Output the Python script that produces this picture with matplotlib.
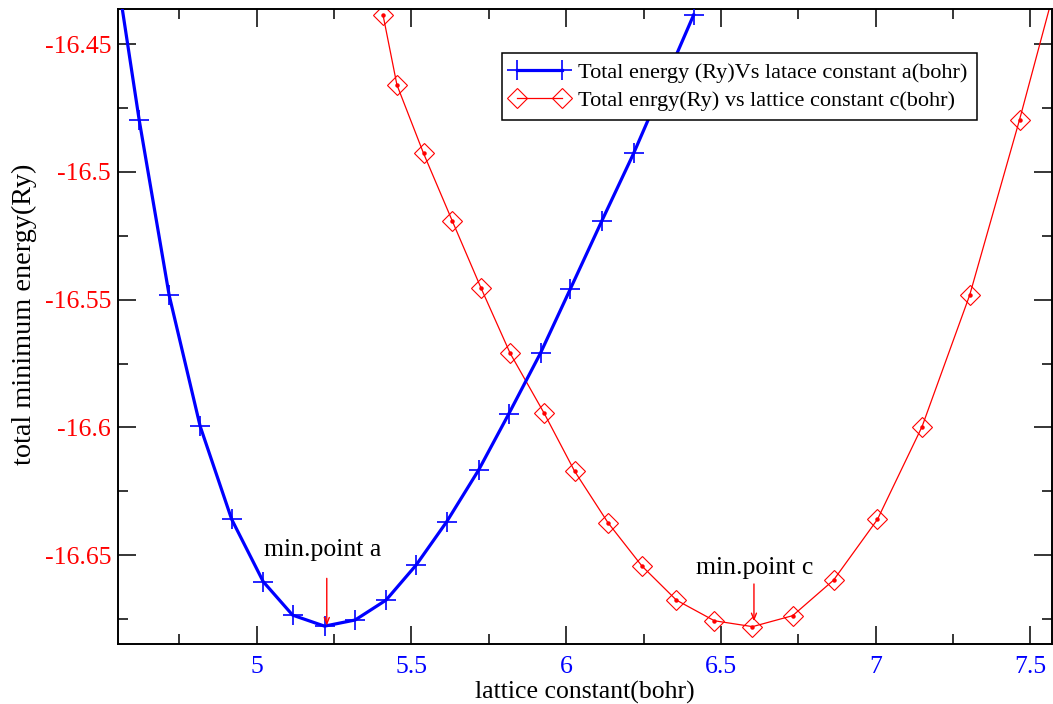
import matplotlib
matplotlib.use("Agg")
import matplotlib.pyplot as plt
from matplotlib.ticker import FixedLocator, MultipleLocator

plt.rcParams['font.family'] = ['Liberation Serif', 'DejaVu Serif']

# Series a: total energy vs lattice constant a (bohr)
a_x = [4.52, 4.620, 4.717, 4.817, 4.919, 5.021, 5.116, 5.219, 5.318, 5.418,
       5.515, 5.614, 5.717, 5.814, 5.917, 6.013, 6.115, 6.218, 6.412]
a_y = [-16.400, -16.4796, -16.5483, -16.5995, -16.6360, -16.6604, -16.6735,
       -16.6778, -16.6754, -16.6676, -16.6539, -16.6369, -16.6167, -16.5948,
       -16.5709, -16.5459, -16.5192, -16.4927, -16.4385]

# Series c: total energy vs lattice constant c (bohr)
c_x = [5.408, 5.453, 5.539, 5.632, 5.725, 5.819, 5.929, 6.027, 6.135, 6.245,
       6.356, 6.479, 6.602, 6.732, 6.864, 7.006, 7.150, 7.304, 7.465, 7.63]
c_y = [-16.4385, -16.4659, -16.4927, -16.5192, -16.5455, -16.5710, -16.5945,
       -16.6171, -16.6373, -16.6543, -16.6676, -16.6757, -16.6780, -16.6737,
       -16.6598, -16.6360, -16.5997, -16.5482, -16.4796, -16.405]

label_a = "Total energy (Ry)Vs latace constant a(bohr)"
label_c = "Total enrgy(Ry) vs lattice constant c(bohr)"

x_ticks = [5, 5.5, 6, 6.5, 7, 7.5]
x_ticklabels = ["5", "5.5", "6", "6.5", "7", "7.5"]
y_ticks = [-16.45, -16.5, -16.55, -16.6, -16.65]
y_ticklabels = ["-16.45", "-16.5", "-16.55", "-16.6", "-16.65"]

fig = plt.figure(figsize=(10.53, 7.04), dpi=100)
ax = fig.add_axes([118/1053, 1 - 643.5/704, (1052 - 118)/1053, (643.5 - 9)/704])

ax.plot(a_x, a_y, color='#0000ff', lw=2.3, marker='+', ms=14.5, mew=1.2,
        label=label_a, zorder=3)
ax.plot(c_x, c_y, color='#ff0000', lw=0.9, marker='D', ms=9.8, mew=0.8,
        mfc='none', label=label_c, zorder=2)
ax.plot(c_x, c_y, color='#ff0000', lw=0, marker='o', ms=2.2, zorder=2)

ax.set_xlim(4.5516, 7.570)
ax.set_ylim(-16.6846, -16.4362)

ax.xaxis.set_major_locator(FixedLocator(x_ticks))
ax.set_xticklabels(x_ticklabels)
ax.xaxis.set_minor_locator(MultipleLocator(0.25))
ax.yaxis.set_major_locator(FixedLocator(y_ticks))
ax.set_yticklabels(y_ticklabels)
ax.yaxis.set_minor_locator(MultipleLocator(0.025))

ax.tick_params(which='both', direction='in', top=True, right=True, width=1.1)
ax.tick_params(which='major', length=13)
ax.tick_params(which='minor', length=7)
ax.tick_params(axis='x', labelcolor='#0000ff', labelsize=18.5, pad=9)
ax.tick_params(axis='y', labelcolor='#ff0000', labelsize=18.5, pad=5)
for s in ax.spines.values():
    s.set_linewidth(1.4)

ax.set_xlabel("lattice constant(bohr)", fontsize=18.5, labelpad=2)
ax.set_ylabel("total minimum energy(Ry)", fontsize=20.3)
ax.yaxis.set_label_coords((37 - 118) / 934, (643.5 - 314) / 634.5)

# annotations
ax.text(5.2118, -16.648, "min.point a", fontsize=18.5, ha='center', va='center')
ax.annotate("", xy=(5.2263, -16.6776), xytext=(5.2263, -16.6591),
            arrowprops=dict(arrowstyle='->,head_length=0.45,head_width=0.18',
                            color='#ff0000', lw=1.0, shrinkA=0, shrinkB=0))
ax.text(6.6078, -16.6552, "min.point c", fontsize=18.5, ha='center', va='center')
ax.annotate("", xy=(6.6068, -16.6759), xytext=(6.6068, -16.6613),
            arrowprops=dict(arrowstyle='->,head_length=0.45,head_width=0.18',
                            color='#ff0000', lw=1.0, shrinkA=0, shrinkB=0))

leg = ax.legend(loc='upper left', bbox_to_anchor=(501.7/1053, 1 - 53.3/704),
                bbox_transform=fig.transFigure, borderaxespad=0, fontsize=16,
                numpoints=2, handlelength=2.6, handletextpad=0.45,
                borderpad=0.4, labelspacing=0.35, fancybox=False,
                framealpha=1, edgecolor='black')
leg.get_frame().set_linewidth(1.1)
leg.set_zorder(5)

fig.savefig("out.png", dpi=100)
